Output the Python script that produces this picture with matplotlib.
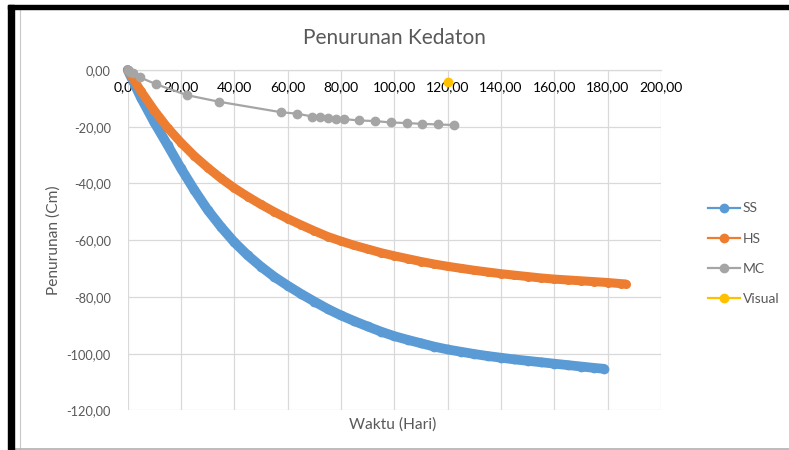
import numpy as np
import matplotlib
matplotlib.use('Agg')
import matplotlib.pyplot as plt
from matplotlib.patches import Rectangle
from matplotlib.lines import Line2D

plt.rcParams['font.family'] = ['Lato', 'DejaVu Sans']

# data
ss_t = [0, 5, 10, 15, 20, 25, 30, 35, 40, 45, 50, 55, 60, 65, 70, 75, 80, 85, 90,
        95, 100, 105, 110, 115, 120, 125, 130, 135, 140, 145, 150, 155, 160, 165,
        170, 175, 178.6]
ss_y = [0, -9.8, -18.5, -26.5, -34.7, -42.3, -49.3, -55.3, -60.7, -65.3, -69.3,
        -72.9, -76.0, -78.9, -81.6, -84.2, -86.5, -88.5, -90.4, -92.2, -93.8,
        -95.1, -96.3, -97.5, -98.5, -99.3, -100.1, -100.8, -101.4, -102.0, -102.5,
        -103.0, -103.5, -104.0, -104.5, -105.0, -105.3]

hs_t = [0, 5, 10, 15, 20, 25, 30, 35, 40, 45, 50, 55, 60, 65, 70, 75, 80, 85, 90,
        95, 100, 105, 110, 115, 120, 125, 130, 135, 140, 145, 150, 155, 160, 165,
        170, 175, 180, 185, 186.7]
hs_y = [0, -7.5, -14.3, -20.4, -25.6, -30.3, -34.4, -38.2, -41.6, -44.6, -47.4,
        -50.0, -52.4, -54.6, -56.7, -58.7, -60.3, -61.8, -63.1, -64.4, -65.5,
        -66.5, -67.5, -68.4, -69.2, -69.9, -70.6, -71.2, -71.8, -72.3, -72.8,
        -73.3, -73.7, -74.0, -74.3, -74.6, -74.9, -75.3, -75.4]

mc_t = [0, 1, 2.1, 4.6, 10.6, 22.4, 34.3, 57.6, 63.5, 69.3, 72.2, 75.3, 78.2,
        81.2, 86.8, 92.8, 98.6, 104.6, 110.5, 116.4, 122.3]
mc_y = [0, -0.6, -1.2, -2.6, -5.0, -8.9, -11.2, -14.9, -15.4, -16.4, -16.6, -17.0,
        -17.3, -17.3, -17.8, -18.0, -18.5, -18.7, -19.0, -19.2, -19.4]

vis_t = [120.2]
vis_y = [-4.1]

x_ticks = np.arange(0, 201, 20)
y_ticks = np.arange(-120, 1, 20)

c_ss = '#5B9BD5'
c_hs = '#ED7D31'
c_mc = '#A5A5A5'
c_vis = '#FFC000'
txt = '#595959'
grid = '#D9D9D9'

fig = plt.figure(figsize=(7.89, 4.5), dpi=100)
ax = fig.add_axes([0.1618, 0.0878, 0.676, 0.7567])

ax.plot(ss_t, ss_y, color=c_ss, lw=7, marker='o', ms=7, mew=0,
        solid_capstyle='round', solid_joinstyle='round', clip_on=False, zorder=3)
ax.plot(hs_t, hs_y, color=c_hs, lw=6.5, marker='o', ms=6.5, mew=0,
        solid_capstyle='round', solid_joinstyle='round', clip_on=False, zorder=4)
ax.plot(mc_t, mc_y, color=c_mc, lw=1.6, marker='o', ms=6, clip_on=False, zorder=5)
ax.plot(vis_t, vis_y, color=c_vis, lw=1.6, marker='o', ms=6, ls='none',
        clip_on=False, zorder=6)

ax.set_xlim(0, 200)
ax.set_ylim(-120, 0)
ax.set_xticks(x_ticks)
ax.set_yticks(y_ticks)
ax.set_xticklabels([('%.2f' % v).replace('.', ',') for v in x_ticks],
                   color=txt, fontsize=9.2)
ax.set_yticklabels([('%.2f' % v).replace('.', ',').replace('-0,00', '0,00') for v in y_ticks],
                   color=txt, fontsize=9.2)
ax.tick_params(length=0)
ax.tick_params(axis='x', pad=8)
ax.tick_params(axis='y', pad=12)

ax.grid(True, color=grid, lw=0.9, zorder=0)
ax.set_axisbelow(True)
for s in ['top', 'right', 'left']:
    ax.spines[s].set_visible(False)
ax.spines['bottom'].set_position(('data', 0))
ax.spines['bottom'].set_color(grid)
ax.spines['bottom'].set_linewidth(0.9)

ax.set_title('Penurunan Kedaton', fontsize=15, color=txt, pad=19)
ax.set_ylabel('Penurunan (Cm)', fontsize=11.2, color=txt, labelpad=4)
fig.text(0.498, 0.057, 'Waktu (Hari)', fontsize=11.2, color=txt, ha='center', va='center')

handles = [Line2D([], [], color=c, lw=1.6, marker='o', ms=6) for c in [c_ss, c_hs, c_mc, c_vis]]
leg = fig.legend(handles, ['SS', 'HS', 'MC', 'Visual'], loc='center left',
                 bbox_to_anchor=(0.8887, 0.4365), frameon=False, fontsize=10,
                 handlelength=2.3, handletextpad=0.2, labelspacing=1.3,
                 borderpad=0)
for t in leg.get_texts():
    t.set_color(txt)

# screenshot frame
fig.patches.append(Rectangle((8 / 789, 0), 6 / 789, 1 - 5 / 450, transform=fig.transFigure,
                             color='black', zorder=10))
fig.patches.append(Rectangle((8 / 789, 1 - 9 / 450), 1, 4 / 450, transform=fig.transFigure,
                             color='black', zorder=10))
fig.lines.append(Line2D([20 / 789, 20 / 789], [0, 1 - 9 / 450], transform=fig.transFigure,
                        color='#C8C8C8', lw=0.8))
fig.lines.append(Line2D([14 / 789, 1], [1.5 / 450, 1.5 / 450], transform=fig.transFigure,
                        color='#B0B0B0', lw=1.2))

fig.savefig('out.png', dpi=100)
